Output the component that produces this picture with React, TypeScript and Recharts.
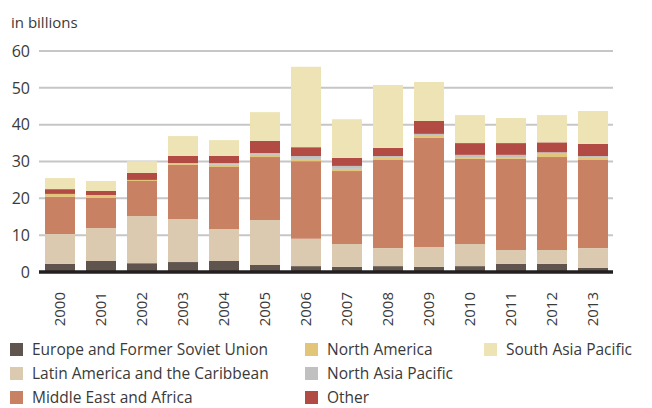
import React from "react";
import { BarChart, Bar, XAxis, YAxis, CartesianGrid } from "recharts";

const years = ["2000", "2001", "2002", "2003", "2004", "2005", "2006", "2007", "2008", "2009", "2010", "2011", "2012", "2013"];

const europe = [2.2, 3.0, 2.4, 2.7, 3.0, 1.9, 1.6, 1.4, 1.6, 1.4, 1.6, 2.2, 2.2, 1.1];
const latinAmerica = [8.1, 8.9, 12.8, 11.7, 8.7, 12.2, 7.4, 6.2, 4.9, 5.4, 6.0, 3.8, 3.8, 5.4];
const middleEast = [10.1, 8.2, 9.5, 14.7, 16.8, 17.1, 21.1, 19.8, 23.9, 29.6, 23.1, 24.7, 25.2, 23.9];
const northAmerica = [0.8, 0.8, 0.3, 0.5, 0.6, 0.6, 0.6, 0.6, 0.6, 0.8, 0.5, 0.5, 1.1, 0.6];
const northAsia = [0, 0, 0, 0, 0.5, 0.5, 0.8, 0.8, 0.5, 0.3, 0.6, 0.6, 0.2, 0.5];
const other = [1.3, 1.1, 1.9, 1.9, 1.9, 3.3, 2.4, 2.2, 2.2, 3.5, 3.2, 3.2, 2.7, 3.3];
const southAsia = [3.0, 2.7, 3.2, 5.4, 4.3, 7.8, 21.8, 10.5, 17.1, 10.6, 7.6, 6.8, 7.4, 8.9];

const yTicks = [0, 10, 20, 30, 40, 50, 60];

const SERIES = [
  { key: "europe", name: "Europe and Former Soviet Union", color: "#5f554e", values: europe },
  { key: "latin", name: "Latin America and the Caribbean", color: "#dccab0", values: latinAmerica },
  { key: "mea", name: "Middle East and Africa", color: "#c98163", values: middleEast },
  { key: "na", name: "North America", color: "#e3c57a", values: northAmerica },
  { key: "nap", name: "North Asia Pacific", color: "#c0c0c0", values: northAsia },
  { key: "other", name: "Other", color: "#b34b45", values: other },
  { key: "sap", name: "South Asia Pacific", color: "#ede3b4", values: southAsia },
];

// legend columns as in the reference: left, middle, right
const LEGEND_COLS = [
  { left: 10, keys: ["europe", "latin", "mea"] },
  { left: 305, keys: ["na", "nap", "other"] },
  { left: 484, keys: ["sap"] },
];

const FONT = "'Open Sans', sans-serif";
const TEXT = "#3a3a3a";

const data = years.map((y, i) => {
  const row: Record<string, string | number> = { year: y };
  for (const s of SERIES) row[s.key] = s.values[i];
  return row;
});

function YearTick({ x, y, payload }: any) {
  return (
    <text
      transform={`translate(${x + 5}, ${y + 12}) rotate(-90)`}
      textAnchor="end"
      fontSize={15}
      fontFamily={FONT}
      fill={TEXT}
    >
      {payload.value}
    </text>
  );
}

export default function App() {
  return (
    <div style={{ position: "absolute", left: 0, top: 0, width: 652, height: 408, background: "#fff", fontFamily: FONT }}>
      <div style={{ position: "absolute", left: 11, top: 12, fontSize: 15, color: TEXT }}>in billions</div>
      <BarChart
        width={652}
        height={330}
        data={data}
        margin={{ top: 51, right: 39, bottom: 0, left: 0 }}
        barSize={30}
      >
        <CartesianGrid vertical={false} stroke="#c6c6c6" strokeWidth={2} />
        <YAxis
          domain={[0, 60]}
          ticks={yTicks}
          width={39}
          axisLine={false}
          tickLine={false}
          tickSize={0}
          tickMargin={9}
          tick={{ fontSize: 16, fill: TEXT, fontFamily: FONT }}
        />
        <XAxis
          dataKey="year"
          height={58}
          tickLine={false}
          axisLine={{ stroke: "#231f20", strokeWidth: 3.5 }}
          tick={<YearTick />}
          interval={0}
        />
        {SERIES.map((s) => (
          <Bar key={s.key} dataKey={s.key} name={s.name} stackId="a" fill={s.color} isAnimationActive={false} />
        ))}
      </BarChart>
      {LEGEND_COLS.map((col) =>
        col.keys.map((k, r) => {
          const s = SERIES.find((x) => x.key === k)!;
          return (
            <div
              key={k}
              style={{
                position: "absolute",
                left: col.left,
                top: 349 + r * 24 - 10,
                height: 20,
                display: "flex",
                alignItems: "center",
                fontSize: 15.5,
                color: TEXT,
                whiteSpace: "nowrap",
              }}
            >
              <span style={{ width: 13, height: 13, background: s.color, display: "inline-block", marginRight: 9 }} />
              {s.name}
            </div>
          );
        })
      )}
    </div>
  );
}
